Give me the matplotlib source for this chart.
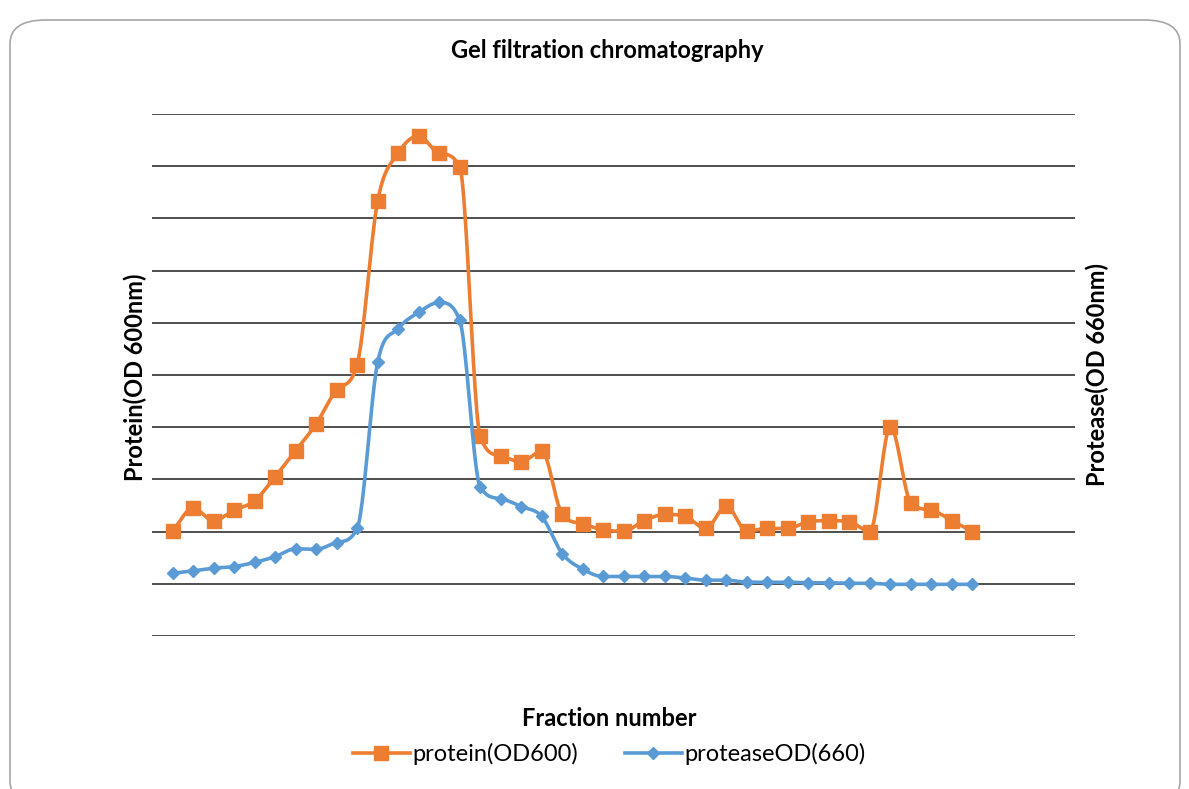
import numpy as np
import matplotlib
matplotlib.use("Agg")
import matplotlib.pyplot as plt
from matplotlib.patches import FancyBboxPatch

plt.rcParams['font.family'] = ['Lato', 'DejaVu Sans']

# fraction numbers 1..40
fractions = list(range(1, 41))

# protein OD600 (read in gridline units)
protein = [2.01, 2.45, 2.21, 2.41, 2.59, 3.05, 3.55, 4.06, 4.71, 5.20,
           8.33, 9.25, 9.58, 9.25, 8.99, 3.83, 3.45, 3.34, 3.54, 2.33,
           2.15, 2.03, 2.01, 2.21, 2.33, 2.29, 2.06, 2.49, 2.01, 2.06,
           2.06, 2.19, 2.21, 2.19, 2.00, 4.01, 2.55, 2.41, 2.21, 2.00]

# protease OD660
protease = [1.20, 1.25, 1.30, 1.33, 1.41, 1.52, 1.67, 1.66, 1.79, 2.06,
            5.24, 5.89, 6.20, 6.39, 6.05, 2.86, 2.63, 2.48, 2.29, 1.58,
            1.28, 1.14, 1.14, 1.14, 1.14, 1.11, 1.07, 1.07, 1.03, 1.03,
            1.03, 1.02, 1.02, 1.01, 1.01, 0.99, 0.99, 0.99, 0.99, 0.99]

ORANGE = '#ED7D31'
BLUE = '#5B9BD5'


def smooth(x, y, n=24):
    # smoothed line like Excel: central-difference tangents, limited so
    # the curve doesn't overshoot (Fritsch-Carlson)
    x = np.asarray(x, float)
    y = np.asarray(y, float)
    h = np.diff(x)
    d = np.diff(y) / h
    m = np.empty_like(y)
    m[0], m[-1] = d[0], d[-1]
    m[1:-1] = (d[:-1] + d[1:]) / 2
    for k in range(len(d)):
        if d[k] == 0:
            m[k] = m[k + 1] = 0
            continue
        a, b = m[k] / d[k], m[k + 1] / d[k]
        if a < 0:
            m[k] = 0
            a = 0
        if b < 0:
            m[k + 1] = 0
            b = 0
        s = a * a + b * b
        if s > 9:
            t = 3 / np.sqrt(s)
            m[k] = t * a * d[k]
            m[k + 1] = t * b * d[k]
    xs, ys = [], []
    t = np.linspace(0, 1, n, endpoint=False)
    for k in range(len(d)):
        h00 = 2 * t ** 3 - 3 * t ** 2 + 1
        h10 = t ** 3 - 2 * t ** 2 + t
        h01 = -2 * t ** 3 + 3 * t ** 2
        h11 = t ** 3 - t ** 2
        xs.extend(x[k] + t * h[k])
        ys.extend(h00 * y[k] + h10 * h[k] * m[k] + h01 * y[k + 1] + h11 * h[k] * m[k + 1])
    xs.append(x[-1])
    ys.append(y[-1])
    return xs, ys


fig = plt.figure(figsize=(11.89, 7.89), dpi=100)

# rounded chart frame
frame = FancyBboxPatch((10 / 1189, -0.02), 1170 / 1189, (779 - 10) / 789 + 0.02,
                       boxstyle="round,pad=0,rounding_size=0.03",
                       transform=fig.transFigure, facecolor='none',
                       edgecolor='#A6A6A6', linewidth=1.2, zorder=-1)
fig.patches.append(frame)

ax = fig.add_axes([152 / 1189, (789 - 636) / 789, 923 / 1189, 522 / 789])
ax2 = ax.twinx()
for a in (ax, ax2):
    a.set_xlim(0, 45)
    a.set_ylim(0, 10)
    a.set_facecolor('none')
    for s in a.spines.values():
        s.set_visible(False)
    a.tick_params(left=False, right=False, bottom=False,
                  labelleft=False, labelright=False, labelbottom=False)

for g in range(0, 11):
    ax.axhline(g, color='#404040', lw=1.3, zorder=1)

sx, sy = smooth(fractions, protein)
ax.plot(sx, sy, color=ORANGE, lw=2.6, zorder=3)
ax.plot(fractions, protein, ls='none', marker='s', ms=9.5, color=ORANGE, zorder=4)

sx, sy = smooth(fractions, protease)
ax2.plot(sx, sy, color=BLUE, lw=2.6, zorder=3)
ax2.plot(fractions, protease, ls='none', marker='D', ms=6.5, color=BLUE, zorder=4)

fig.text(607 / 1189, 1 - 50 / 789, 'Gel filtration chromatography',
         ha='center', va='center', fontsize=17, fontweight='bold')
fig.text(135 / 1189, 1 - 377 / 789, 'Protein(OD 600nm)', rotation=90,
         ha='center', va='center', fontsize=17, fontweight='bold')
fig.text(1097 / 1189, 1 - 375 / 789, 'Protease(OD 660nm)', rotation=90,
         ha='center', va='center', fontsize=17, fontweight='bold')
fig.text(609 / 1189, 1 - 718 / 789, 'Fraction number',
         ha='center', va='center', fontsize=17, fontweight='bold')

h1, = ax.plot([], [], color=ORANGE, lw=2.6, marker='s', ms=9.5)
h2, = ax.plot([], [], color=BLUE, lw=2.6, marker='D', ms=6.5)
fig.legend([h1, h2], ['protein(OD600)', 'proteaseOD(660)'],
           loc='center', bbox_to_anchor=(609 / 1189, 1 - 754 / 789),
           ncol=2, frameon=False, fontsize=17, handlelength=2.4,
           handletextpad=0.1, columnspacing=2.0)

fig.savefig('out.png', dpi=100)
